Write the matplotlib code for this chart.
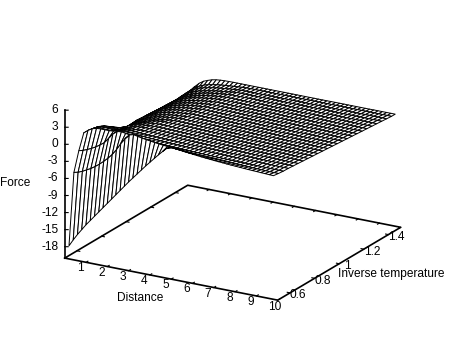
import numpy as np
import matplotlib
matplotlib.use("Agg")
import matplotlib.pyplot as plt
from mpl_toolkits.mplot3d import proj3d

plt.rcParams['font.family'] = ['Liberation Sans', 'DejaVu Sans']

# distance samples (x), one force row per inverse temperature (y)
distance = [0.2,0.4,0.6,0.8,1.0,1.2,1.4,1.6,1.8,2.0,2.2,2.4,2.6,2.8,3.0,3.2,3.4,3.6,3.8,4.0,4.2,4.4,4.6,4.8,5.0,
            5.2,5.4,5.6,5.8,6.0,6.2,6.4,6.6,6.8,7.0,7.2,7.4,7.6,7.8,8.0,8.2,8.4,8.6,8.8,9.0,9.2,9.4,9.6,9.8]
inv_temp = [0.5,0.54,0.58,0.62,0.66,0.7,0.74,0.78,0.82,0.86,0.9,0.94,0.98,1.02,1.06,1.1,1.14,1.18,1.22,1.26,1.3,1.34,1.38,1.42,1.46,1.49]

f050 = [-17.7,-16.5,-15.4,-14.4,-13.4,-12.5,-11.6,-10.7,-9.8,-8.9,-8,-7.1,-6.2,-5.3,-4.4,-3.55,-2.7,-1.85,-1,-.2,.6,1.4,2.15,2.85,
        3.2,3.08,2.98,2.88,2.79,2.7,2.62,2.54,2.47,2.41,2.34,2.28,2.23,2.17,2.12,2.08,2.03,1.99,1.94,1.9,1.87,1.83,1.8,1.76,1.73]
f054 = [-5.3,-5.1,-4.8,-4.4,-4,-3.5,-2.95,-2.3,-1.6,-.8,.2,1.4,2.4,3.2,
        3.4,3.24,3.09,2.97,2.85,2.75,2.66,2.57,2.5,2.43,2.36,2.3,2.24,2.19,2.14,2.1,2.06,2.02,1.98,1.95,1.91,1.88,1.85,1.83,1.8,1.78,1.75,1.73,1.71,1.69,1.67,1.65,1.63,1.61,1.6]
f058 = [-2,-1.8,-1.5,-1.15,-.75,-.25,.3,1.2,2.1,2.7,
        2.8,2.66,2.54,2.44,2.35,2.28,2.21,2.15,2.09,2.05,2,1.96,1.92,1.89,1.86,1.83,1.81,1.78,1.76,1.74,1.72,1.7,1.68,1.66,1.65,1.63,1.62,1.61,1.59,1.58,1.57,1.56,1.55,1.54,1.53,1.52,1.51,1.5,1.5]
f062 = [.6,1.2,1.65,1.85,1.9,1.9,1.9,1.95,2.15,2.3,2.3,2.25,2.17,2.11,
        2.06,2.01,1.96,1.92,1.88,1.85,1.82,1.79,1.76,1.74,1.72,1.7,1.68,1.67,1.65,1.64,1.62,1.61,1.6,1.59,1.58,1.57,1.56,1.55,1.54,1.53,1.52,1.52,1.51,1.5,1.5,1.49,1.48,1.48,1.47]
f066 = [.5,1,1.4,1.55,1.6,1.55,1.5,1.6,1.8,1.92,1.96,1.94,1.88,1.83,
        1.79,1.77,1.74,1.72,1.69,1.67,1.65,1.63,1.61,1.6,1.58,1.57,1.56,1.54,1.53,1.52,1.51,1.5,1.49,1.48,1.48,1.47,1.46,1.45,1.45,1.44,1.43,1.43,1.42,1.42,1.41,1.41,1.4,1.4,1.39]
f070 = [.4,.8,1.05,1.15,1.15,1.1,1.1,1.28,1.5,1.6,1.66,1.7,1.72,1.73,
        1.74,1.7,1.67,1.64,1.61,1.59,1.57,1.55,1.53,1.51,1.5,1.48,1.47,1.46,1.45,1.44,1.43,1.42,1.41,1.4,1.4,1.39,1.38,1.37,1.37,1.36,1.36,1.35,1.35,1.34,1.34,1.33,1.33,1.32,1.32]
f074 = [.2,.33,.45,.53,.6,.7,.82,1,1.3,1.48,1.56,1.6,1.61,1.6,
        1.6,1.57,1.54,1.51,1.49,1.47,1.45,1.43,1.42,1.41,1.39,1.38,1.37,1.36,1.35,1.34,1.33,1.32,1.32,1.31,1.3,1.3,1.29,1.29,1.28,1.28,1.27,1.27,1.26,1.26,1.25,1.25,1.25,1.24,1.24]
f078 = [-.2,-.15,-.1,-.02,.1,.35,.7,.98,1.18,1.3,1.37,1.43,1.47,1.48,
        1.48,1.45,1.43,1.41,1.39,1.37,1.35,1.34,1.33,1.31,1.3,1.29,1.28,1.27,1.26,1.26,1.25,1.24,1.23,1.23,1.22,1.22,1.21,1.21,1.2,1.2,1.2,1.19,1.19,1.19,1.18,1.18,1.18,1.17,1.17]
f082 = [-.8,-.8,-.75,-.6,-.32,.05,.45,.75,.97,1.12,1.23,1.31,1.35,1.36,
        1.36,1.34,1.31,1.3,1.28,1.26,1.25,1.24,1.23,1.21,1.2,1.2,1.19,1.18,1.17,1.17,1.16,1.15,1.15,1.14,1.14,1.13,1.13,1.12,1.12,1.12,1.11,1.11,1.11,1.1,1.1,1.1,1.09,1.09,1.09]
f086 = [-1.5,-1.5,-1.35,-1,-.52,-.07,.33,.58,.78,.96,1.1,1.2,1.25,1.26,
        1.26,1.24,1.22,1.2,1.19,1.17,1.16,1.15,1.14,1.13,1.12,1.11,1.11,1.1,1.09,1.09,1.08,1.08,1.07,1.07,1.06,1.06,1.05,1.05,1.05,1.04,1.04,1.04,1.03,1.03,1.03,1.03,1.02,1.02,1.02]
f090 = [-2.3,-2,-1.6,-1.1,-.6,-.15,.2,.46,.63,.77,.88,.98,1.06,1.11,
        1.14,1.12,1.11,1.09,1.08,1.07,1.06,1.05,1.04,1.03,1.02,1.02,1.01,1.01,1,1,.99,.99,.98,.98,.98,.97,.97,.97,.96,.96,.96,.95,.95,.95,.95,.95,.94,.94,.94]
f094 = [-2.9,-2.2,-1.6,-1.1,-.65,-.25,.08,.32,.5,.64,.76,.85,.92,.98,
        1.04,1.02,1.01,1,.99,.98,.97,.96,.96,.95,.94,.94,.93,.93,.92,.92,.91,.91,.91,.9,.9,.9,.89,.89,.89,.89,.89,.88,.88,.88,.88,.88,.87,.87,.87]
f098 = [-3,-2.15,-1.5,-1,-.6,-.27,0,.2,.38,.52,.63,.72,.79,.85,
        .94,.93,.92,.91,.9,.89,.88,.87,.87,.86,.85,.85,.84,.84,.84,.83,.83,.83,.82,.82,.82,.81,.81,.81,.81,.81,.8,.8,.8,.8,.8,.8,.79,.79,.79]
f102 = [-3.05,-2.25,-1.6,-1.1,-.7,-.37,-.1,.12,.29,.43,.54,.63,.7,.78,
        .84,.83,.82,.81,.8,.79,.79,.78,.77,.77,.76,.76,.76,.75,.75,.75,.74,.74,.74,.74,.73,.73,.73,.73,.73,.72,.72,.72,.72,.72,.72,.71,.71,.71,.71]
f106 = [-3.08,-2.27,-1.63,-1.15,-.76,-.44,-.18,.03,.2,.34,.45,.54,.61,.68,
        .75,.74,.73,.72,.72,.71,.71,.7,.69,.69,.69,.68,.68,.68,.67,.67,.67,.67,.66,.66,.66,.66,.66,.65,.65,.65,.65,.65,.65,.65,.64,.64,.64,.64,.64]
f110 = [-3.1,-2.3,-1.7,-1.22,-.84,-.52,-.27,-.07,.1,.24,.35,.44,.52,.6,
        .66,.65,.64,.64,.63,.62,.62,.61,.61,.61,.6,.6,.6,.59,.59,.59,.59,.58,.58,.58,.58,.58,.57,.57,.57,.57,.57,.57,.57,.57,.56,.56,.56,.56,.56]
f114 = [-3.15,-2.38,-1.78,-1.31,-.93,-.62,-.37,-.17,0,.14,.25,.34,.42,.5,
        .57,.56,.56,.55,.55,.54,.54,.53,.53,.53,.52,.52,.52,.52,.51,.51,.51,.51,.51,.51,.5,.5,.5,.5,.5,.5,.5,.5,.49,.49,.49,.49,.49,.49,.49]
f118 = [-3.18,-2.43,-1.85,-1.39,-1.02,-.72,-.47,-.27,-.1,.04,.15,.25,.33,.41,
        .48,.47,.46,.46,.45,.45,.45,.44,.44,.44,.44,.43,.43,.43,.43,.43,.43,.42,.42,.42,.42,.42,.42,.42,.42,.42,.41,.41,.41,.41,.41,.41,.41,.41,.41]
f122 = [-3.2,-2.47,-1.9,-1.45,-1.08,-.79,-.54,-.34,-.18,-.05,.06,.16,.25,.33,
        .38,.38,.37,.37,.37,.36,.36,.36,.36,.35,.35,.35,.35,.35,.35,.35,.34,.34,.34,.34,.34,.34,.34,.34,.34,.34,.34,.34,.33,.33,.33,.33,.33,.33,.33]
f126 = [-3.2,-2.5,-1.95,-1.5,-1.14,-.85,-.6,-.4,-.24,-.11,0,.1,.19,.25,
        .3,.3,.3,.29,.29,.29,.29,.29,.28,.28,.28,.28,.28,.28,.28,.27,.27,.27,.27,.27,.27,.27,.27,.27,.27,.27,.26,.26,.26,.26,.26,.26,.26,.26,.26]
f130 = [-3.25,-2.55,-2,-1.57,-1.22,-.94,-.7,-.5,-.34,-.2,-.09,.01,.09,.16,
        .21,.21,.2,.2,.2,.2,.2,.2,.2,.19,.19,.19,.19,.19,.19,.19,.19,.19,.19,.19,.19,.19,.19,.19,.18,.18,.18,.18,.18,.18,.18,.18,.18,.18,.18]
f134 = [-3.25,-2.6,-2.05,-1.62,-1.28,-1,-.78,-.59,-.43,-.3,-.19,-.09,-.01,.06,
        .13,.13,.13,.13,.13,.13,.12,.12,.12,.12,.12,.12,.12,.12,.12,.12,.12,.12,.12,.12,.11,.11,.11,.11,.11,.11,.11,.11,.11,.11,.11,.11,.11,.11,.11]
f138 = [-3.25,-2.5,-2,-1.58,-1.27,-1.02,-.83,-.67,-.53,-.41,-.31,-.22,-.14,-.03,
        .05,.05,.05,.05,.05,.05,.05,.05,.05,.05,.04,.04,.04,.04,.04,.04,.04,.04,.04,.04,.04,.04,.03,.03,.03,.03,.03,.03,.03,.03,.03,.03,.03,.03,.03]
f142 = [-3.22,-2.45,-1.93,-1.52,-1.21,-.98,-.8,-.66,-.54,-.44,-.36,-.28,-.21,-.15,
        -.08,-.08,-.08,-.08,-.08,-.08,-.08,-.08,-.08,-.08,-.07,-.07,-.07,-.07,-.07,-.07,-.07,-.07,-.07,-.07,-.06,-.06,-.06,-.06,-.06,-.06,-.06,-.06,-.05,-.05,-.05,-.05,-.05,-.05,-.05]
f146 = [-3.2,-2.4,-1.85,-1.45,-1.15,-.93,-.77,-.65,-.55,-.47,-.4,-.34,-.28,-.22,
        -.17,-.16,-.16,-.16,-.15,-.15,-.15,-.15,-.15,-.15,-.14,-.14,-.14,-.14,-.14,-.14,-.14,-.14,-.14,-.14,-.14,-.13,-.13,-.13,-.13,-.13,-.13,-.13,-.13,-.13,-.13,-.13,-.13,-.13,-.13]
f149 = [-3.1,-2.2,-1.5,-1,-.7,-.45,-.3,-.22,-.18,-.16,-.15,-.15,-.15,-.15,
        -.15,-.15,-.15,-.15,-.15,-.15,-.15,-.15,-.15,-.15,-.15,-.15,-.15,-.15,-.15,-.15,-.15,-.15,-.15,-.14,-.14,-.14,-.14,-.14,-.14,-.14,-.14,-.14,-.14,-.13,-.13,-.13,-.13,-.13,-.13]

x_ticks = [1,2,3,4,5,6,7,8,9,10]
y_ticks = [0.6,0.8,1.0,1.2,1.4]
y_tick_labels = ['0.6','0.8','1','1.2','1.4']
z_ticks = [6,3,0,-3,-6,-9,-12,-15,-18]

rows = [f050,f054,f058,f062,f066,f070,f074,f078,f082,f086,f090,f094,f098,
        f102,f106,f110,f114,f118,f122,f126,f130,f134,f138,f142,f146,f149]
X,Y = np.meshgrid(distance,inv_temp)
Z = np.array(rows)

fig = plt.figure(figsize=(4.64,3.48),dpi=100)
ax = fig.add_axes([-0.0086,0.0016,1,1],projection='3d',proj_type='ortho')
ax.view_init(elev=20,azim=-60)
ax.set_xlim(0,10)
ax.set_ylim(0.5,1.5)
ax.set_zlim(-20,6)
ax.set_box_aspect((1,1,0.64),zoom=1.065)
ax.set_xticks([])
ax.set_yticks([])
ax.set_zticks([])
ax.set_axis_off()

def tick_label(x,y,z,s,**kw):
    # project by hand so the label is a plain 2D text on the axes
    px,py,_ = proj3d.proj_transform(x,y,z,ax.get_proj())
    ax.text2D(px,py,s,transform=ax.transData,va='center',fontsize=8.6,**kw)

ax.plot_surface(X,Y,Z,rstride=1,cstride=1,color='white',edgecolor='black',
                linewidth=0.7,shade=False,antialiased=True)

# base frame
zb = -20
ax.plot([0,10,10,0,0],[0.5,0.5,1.5,1.5,0.5],[zb]*5,color='black',lw=1.2,zorder=1)
ax.plot([0,0],[0.5,0.5],[zb,6],color='black',lw=1.2)

for t in x_ticks:
    ax.plot([t,t],[0.5,0.515],[zb,zb],color='black',lw=0.8)
    ax.plot([t,t],[1.5,1.485],[zb,zb],color='black',lw=0.8)
    dx = 0.14 if t == 10 else 0
    tick_label(t-0.27+dx,0.5,zb-1.26,str(t),ha='center')
for t,lab in zip(y_ticks,y_tick_labels):
    ax.plot([10,9.87],[t,t],[zb,zb],color='black',lw=0.8)
    ax.plot([0,0.13],[t,t],[zb,zb],color='black',lw=0.8)
    tick_label(10.38,t,zb-0.16,lab,ha='center')
for t in z_ticks:
    ax.plot([0,0.12],[0.5,0.507],[t,t],color='black',lw=0.8)
    tick_label(-0.22,0.487,t,str(t),ha='right')

fig.text(15/464,1-183/348,'Force',ha='center',va='center',fontsize=8.6)
fig.text(140/464,1-298/348,'Distance',ha='center',va='center',fontsize=8.6)
fig.text(391.5/464,1-274/348,'Inverse temperature',ha='center',va='center',fontsize=8.6)

fig.savefig('out.png',dpi=100)
